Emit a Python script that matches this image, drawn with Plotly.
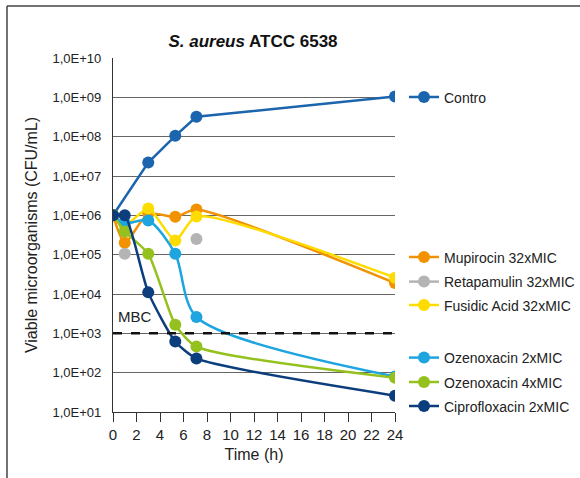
import plotly.graph_objects as go

time_h = [0, 1, 3, 5.3, 7.1, 24]
contro = [1.0e6, None, 2.2e7, 1.05e8, 3.2e8, 1.05e9]
mupirocin = [1.0e6, 2.0e5, 1.1e6, 9.2e5, 1.4e6, 1.9e4]
retapamulin = [None, 1.05e5, None, None, 2.5e5, None]
fusidic = [1.0e6, 5.5e5, 1.5e6, 2.3e5, 9.4e5, 2.6e4]
ozen2 = [1.0e6, 6.3e5, 7.4e5, 1.05e5, 2.6e3, 8.0e1]
ozen4 = [1.0e6, 3.9e5, 1.05e5, 1.65e3, 4.6e2, 7.4e1]
cipro = [1.0e6, 1.0e6, 1.1e4, 6.2e2, 2.3e2, 2.6e1]
mbc_value = 1.0e3

y_exponents = list(range(1, 11))
y_tickvals = [10 ** e for e in y_exponents]
y_ticktext = ["1,0E+%02d" % e for e in y_exponents]
x_tickvals = list(range(0, 25, 2))

series = [
    ("Contro", contro, "#1b64ae", 97.5, None),
    ("Mupirocin 32xMIC", mupirocin, "#f39200", 257.5, 0.6),
    ("Retapamulin 32xMIC", retapamulin, "#b4b4b4", 282, 0.6),
    ("Fusidic Acid 32xMIC", fusidic, "#ffdc00", 305.5, 0.6),
    ("Ozenoxacin 2xMIC", ozen2, "#1ea5e0", 358, 0.8),
    ("Ozenoxacin 4xMIC", ozen4, "#95c11f", 382.5, 0.6),
    ("Ciprofloxacin 2xMIC", cipro, "#0c3d7c", 406.5, 0.6),
]

W, H = 580, 478
ML, MR, MT, MB = 113, 185, 58, 66
PH = H - MT - MB
PW = W - ML - MR

def py(ypx):
    return (H - MB - ypx) / PH

def px(xpx):
    return (xpx - ML) / PW

font_main = "Liberation Sans, Arial, Helvetica, sans-serif"

fig = go.Figure()
layout_legends = {}
for i, (name, vals, color, ly, sm) in enumerate(series):
    key = "legend" if i == 0 else "legend%d" % (i + 1)
    if sm is None:
        line = dict(color=color, width=2.5, shape="linear")
    else:
        line = dict(color=color, width=2.5, shape="spline", smoothing=sm)
    fig.add_trace(go.Scatter(
        x=time_h, y=vals, name=name, mode="lines+markers",
        line=line,
        marker=dict(color=color, size=12),
        connectgaps=(name == "Contro"),
        legend=key, showlegend=True,
    ))
    layout_legends[key] = dict(
        x=px(404), xanchor="left", y=py(ly), yanchor="middle",
        bgcolor="rgba(0,0,0,0)", itemwidth=30, visible=True,
        font=dict(family=font_main, size=14, color="#222"),
        tracegroupgap=0,
    )

fig.add_hline(y=mbc_value, line=dict(color="#111", width=2.5, dash="dash"))
fig.add_annotation(x=0, y=3, yref="y", xref="x", text="MBC", showarrow=False,
                   xanchor="left", yanchor="bottom", xshift=3, yshift=6,
                   font=dict(family=font_main, size=15, color="#222"))

# frame
fig.add_shape(type="line", xref="paper", yref="paper", x0=px(7), x1=px(7),
              y0=py(6), y1=py(480), line=dict(color="#444", width=1.5))
fig.add_shape(type="line", xref="paper", yref="paper", x0=px(7), x1=px(582),
              y0=py(6), y1=py(6), line=dict(color="#444", width=1.5))

fig.update_layout(
    width=W, height=H, showlegend=True,
    margin=dict(l=ML, r=MR, t=MT, b=MB, autoexpand=False),
    paper_bgcolor="white", plot_bgcolor="white",
    title=dict(text="<b><i>S. aureus</i> ATCC 6538</b>", x=253 / W, xanchor="center",
               y=1 - 41 / H, yanchor="middle",
               font=dict(family=font_main, size=17, color="#111")),
    **layout_legends,
)
fig.update_xaxes(range=[0, 24], tickvals=x_tickvals, ticks="outside", ticklen=9,
                 tickcolor="#333", showline=True, linecolor="#333", linewidth=1.2,
                 showgrid=False, zeroline=False, automargin=False,
                 tickfont=dict(family=font_main, size=15, color="#222"),
                 title=dict(text="Time (h)", font=dict(family=font_main, size=16, color="#222"),
                            standoff=6))
fig.update_yaxes(type="log", range=[1, 10], tickvals=y_tickvals, ticktext=y_ticktext,
                 showline=True, linecolor="#333", linewidth=1.2, ticks="",
                 showgrid=True, gridcolor="#666", gridwidth=1, zeroline=False,
                 ticklabelstandoff=8, automargin=False,
                 tickfont=dict(family=font_main, size=13, color="#222"),
                 title=dict(text="Viable microorganisms (CFU/mL)",
                            font=dict(family=font_main, size=16, color="#222"),
                            standoff=10))

fig.write_html("out.html", config={"displayModeBar": False},
               post_script="document.body.style.margin='0';document.body.style.overflow='hidden';")
